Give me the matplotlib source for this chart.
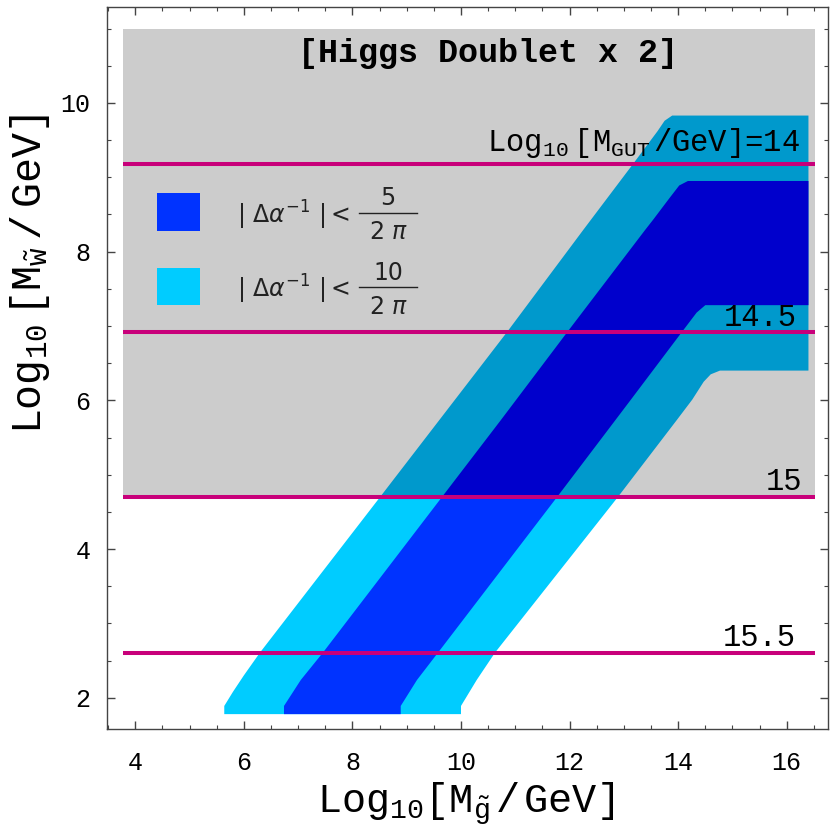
import matplotlib
matplotlib.use("Agg")
import matplotlib.pyplot as plt
from matplotlib.patches import Polygon, Rectangle
from matplotlib.ticker import MultipleLocator

plt.rcParams['mathtext.fontset'] = 'custom'
plt.rcParams['mathtext.rm'] = 'Liberation Mono'
plt.rcParams['mathtext.it'] = 'Liberation Mono'
plt.rcParams['mathtext.bf'] = 'Liberation Mono:bold'

MONO = 'Liberation Mono'

# ---- data ----
# outer band (|Δα^-1| < 10/2π): left edge bottom->top, right edge top->bottom
outer_left_x = [5.64, 5.64, 5.80, 6.00, 6.30, 8.51, 10.85, 12.25, 13.17, 13.62, 13.75, 13.89]
outer_left_y = [1.78, 1.89, 2.08, 2.30, 2.61, 4.70, 6.92, 8.29, 9.18, 9.62, 9.76, 9.83]
outer_top_right_x = [16.40, 16.40]
outer_top_right_y = [9.83, 6.40]
outer_right_x = [14.77, 14.60, 14.47, 14.26, 13.98, 12.89, 10.63, 10.29, 10.00, 10.00]
outer_right_y = [6.40, 6.35, 6.25, 6.01, 5.74, 4.70, 2.61, 2.24, 1.89, 1.78]

# inner band (|Δα^-1| < 5/2π)
inner_left_x = [6.74, 6.74, 7.05, 7.46, 9.65, 10.74, 11.96, 13.39, 13.54, 13.84, 14.02, 14.18]
inner_left_y = [1.78, 1.89, 2.24, 2.61, 4.70, 5.74, 6.92, 8.29, 8.43, 8.72, 8.89, 8.95]
inner_top_right_x = [16.40, 16.40]
inner_top_right_y = [8.95, 7.28]
inner_right_x = [14.50, 14.34, 14.07, 13.13, 12.85, 11.77, 9.58, 9.19, 8.89, 8.89]
inner_right_y = [7.28, 7.18, 6.92, 6.01, 5.74, 4.70, 2.61, 2.24, 1.89, 1.78]

# excluded (gray) region
gray_x = [3.78, 16.52]
gray_y = [4.70, 10.99]

# Log10[M_GUT/GeV] contours
gut_values = ['Log$_{10}\\;$[M$_{\\rm GUT}\\,$/GeV]=14', '14.5', '15', '15.5']
gut_y = [9.18, 6.92, 4.70, 2.60]
gut_label_x = [16.25, 16.19, 16.28, 16.16]
gut_label_y = [9.36, 7.00, 4.80, 2.69]

xticks = [4, 6, 8, 10, 12, 14, 16]
yticks = [2, 4, 6, 8, 10]

legend_prefix = r'$|\ \Delta\alpha^{-1}\ |<$'
legend_num = ['5', '10']
legend_den = r'$2\ \pi$'

# ---- colors ----
GRAY = '#CCCCCC'
LIGHT = '#00CCFF'
DARK = '#0033FF'
LIGHT_G = '#0099CC'
DARK_G = '#0000CC'
MAG = '#C8007A'
TXT = '#222222'

fig = plt.figure(figsize=(8.3, 8.3), dpi=100)
ax = fig.add_axes([107/830, (830-729)/830, 721/830, 722/830])
ax.set_xlim(3.48, 16.76)
ax.set_ylim(1.58, 11.29)

def band(lx, ly, tx, ty, rx, ry):
    xs = lx + tx + rx
    ys = ly + ty + ry
    return list(zip(xs, ys))

outer_pts = band(outer_left_x, outer_left_y, outer_top_right_x, outer_top_right_y, outer_right_x, outer_right_y)
inner_pts = band(inner_left_x, inner_left_y, inner_top_right_x, inner_top_right_y, inner_right_x, inner_right_y)

gray = Rectangle((gray_x[0], gray_y[0]), gray_x[1]-gray_x[0], gray_y[1]-gray_y[0],
                 facecolor=GRAY, edgecolor='none', zorder=1)
ax.add_patch(gray)

below = Rectangle((0, 0), 30, gray_y[0], transform=ax.transData)
for pts, col in [(outer_pts, LIGHT), (inner_pts, DARK)]:
    p = Polygon(pts, closed=True, facecolor=col, edgecolor='none', zorder=2)
    ax.add_patch(p)
    p.set_clip_path(below)
clip_gray = Rectangle((gray_x[0], gray_y[0]), gray_x[1]-gray_x[0], gray_y[1]-gray_y[0],
                      transform=ax.transData)
for pts, col in [(outer_pts, LIGHT_G), (inner_pts, DARK_G)]:
    p = Polygon(pts, closed=True, facecolor=col, edgecolor='none', zorder=3)
    ax.add_patch(p)
    p.set_clip_path(clip_gray)

for yv, lab, lx, ly in zip(gut_y, gut_values, gut_label_x, gut_label_y):
    ax.plot(gray_x, [yv, yv], color=MAG, lw=2.9, solid_capstyle='butt', zorder=4)
    ax.text(lx, ly, lab, ha='right', va='baseline', fontsize=22, family=MONO, zorder=5)

ax.text(10.5, 10.55, '[Higgs Doublet x 2]', ha='center', va='baseline',
        fontsize=24, family=MONO, fontweight='bold', zorder=5)

# legend (manual)
for i, (num, col) in enumerate(zip(legend_num, [DARK, LIGHT])):
    dy = i * 0.1033
    y0 = 0.690 - dy
    ax.add_patch(Rectangle((0.069, y0), 0.060, 0.052, transform=ax.transAxes,
                           facecolor=col, edgecolor='none', zorder=5))
    ax.text(0.180, 0.712 - dy, legend_prefix, transform=ax.transAxes, ha='left',
            va='center', fontsize=17, math_fontfamily='dejavusans', color=TXT, zorder=5)
    ax.plot([0.3495, 0.430], [0.715 - dy, 0.715 - dy], transform=ax.transAxes,
            color=TXT, lw=1.0, zorder=5)
    ax.text(0.390, 0.735 - dy, num, transform=ax.transAxes, ha='center', va='center',
            fontsize=17, family='DejaVu Sans', color=TXT, zorder=5)
    ax.text(0.390, 0.688 - dy, legend_den, transform=ax.transAxes, ha='center',
            va='center', fontsize=17, math_fontfamily='dejavusans', color=TXT, zorder=5)

ax.set_xticks(xticks)
ax.set_yticks(yticks)
ax.xaxis.set_minor_locator(MultipleLocator(0.5))
ax.yaxis.set_minor_locator(MultipleLocator(0.5))
ax.tick_params(which='both', direction='in', top=True, right=True, color='#444444')
ax.tick_params(which='major', length=6, width=1)
ax.tick_params(which='minor', length=3, width=0.8)
ax.tick_params(axis='x', pad=16)
ax.tick_params(axis='y', pad=12)
for lab in ax.get_xticklabels() + ax.get_yticklabels():
    lab.set_family(MONO)
    lab.set_fontsize(18)
for s in ax.spines.values():
    s.set_linewidth(1.0)
    s.set_color('#444444')

ax.set_xlabel('Log$_{10}$[M$_{\\tilde{\\rm g}}\\,$/$\\,$GeV]', family=MONO, fontsize=29)
ax.set_ylabel('Log$_{10}\\;$[M$_{\\tilde{\\rm w}}\\;$/$\\;$GeV]', family=MONO, fontsize=30)
ax.xaxis.set_label_coords(0.498, -0.104)
ax.yaxis.set_label_coords(-0.107, 0.630)
ax.xaxis.label.set_va('center')
ax.yaxis.label.set_va('center')

fig.savefig('out.png', dpi=100)
